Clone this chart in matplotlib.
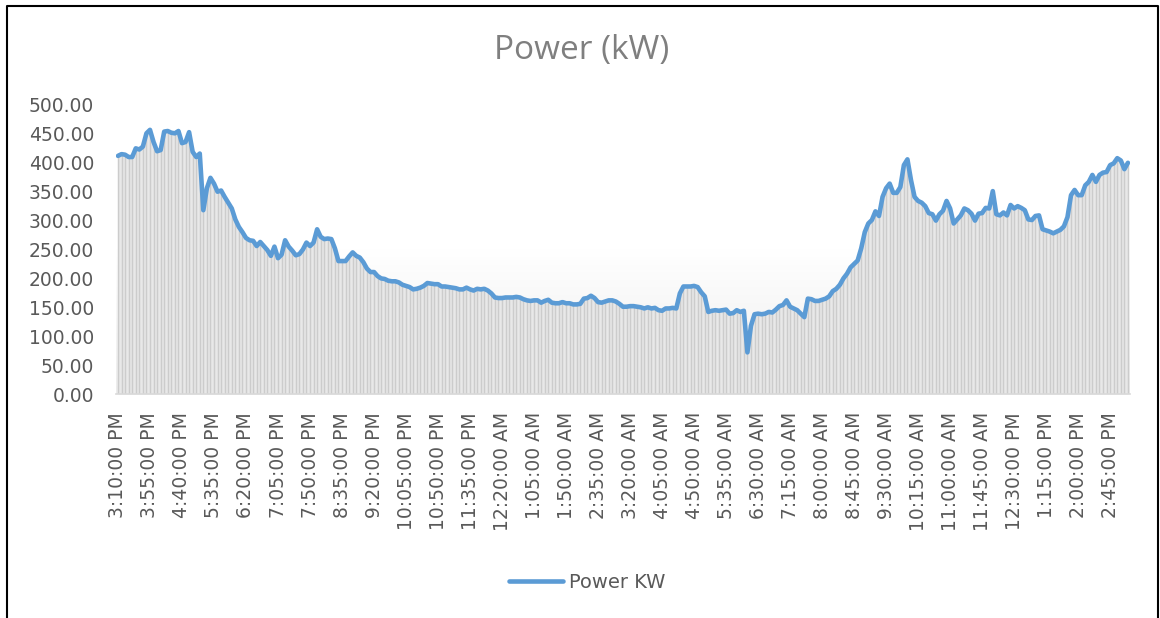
import numpy as np
import matplotlib
matplotlib.use("Agg")
import matplotlib.pyplot as plt
from matplotlib.lines import Line2D
from matplotlib.colors import LinearSegmentedColormap

# ---------------- data ----------------
power_kw = [
    412, 415, 414, 410, 410, 425, 423, 428, 451, 457, 436, 420, 422, 454, 455,
    452,
    451, 455, 434, 436, 453, 419, 410, 416, 318, 356, 374, 364, 350, 352, 341,
    331, 321, 302, 289, 280, 270, 266, 265, 256, 263, 256, 249, 239, 255, 235, 241,
    266, 255, 248, 240, 242, 250, 262, 256, 262, 285, 272, 268, 269, 268, 252,
    230, 230, 230, 238, 245, 239, 236,
    228, 217, 211, 211, 204, 200, 199, 196, 195, 195, 193, 189, 187, 185, 181,
    182, 184, 187, 192, 191, 190, 190, 186, 186, 185, 184, 183, 181, 181, 184,
    181, 179, 182, 181, 182, 179, 174, 167, 166, 166, 167, 167, 167, 168, 167,
    164, 162, 161, 162, 162, 158, 161, 163, 158, 157, 157, 159, 157, 157, 155,
    155, 156, 165, 166, 170, 166, 159, 158, 160, 162, 162, 160, 156, 151,
    151, 152, 152, 151, 150, 148, 150, 148, 149, 145, 144, 148, 148, 149, 148,
    174, 186, 186, 186, 187, 185, 176, 169, 142, 144, 145, 144, 145, 146, 139,
    140, 145, 142, 144, 72, 118, 138, 139, 138, 139, 142, 141, 146, 152, 154,
    162, 151, 148, 145, 139, 133, 165, 164, 161, 161, 163, 165, 169, 178, 182,
    189, 200, 208, 219, 225, 231, 252, 280, 295, 301,
    316, 308, 341, 356, 364, 348, 348, 358, 396, 406, 370, 341, 334, 331, 325,
    313, 311, 300, 311, 317, 334, 321, 295, 302, 309, 321, 318, 312, 300, 312,
    313, 322, 321, 351, 311, 309, 314, 309, 327, 321, 325, 322, 318, 302, 301,
    308, 309, 285, 283, 281, 278, 281, 284, 290, 306, 344, 353, 344, 344, 361,
    367, 379, 367, 379, 383, 384, 396, 399, 408, 404, 389, 400,
]

tick_labels = [
    "3:10:00 PM", "3:55:00 PM", "4:40:00 PM", "5:35:00 PM", "6:20:00 PM",
    "7:05:00 PM", "7:50:00 PM", "8:35:00 PM", "9:20:00 PM", "10:05:00 PM",
    "10:50:00 PM", "11:35:00 PM", "12:20:00 AM", "1:05:00 AM", "1:50:00 AM",
    "2:35:00 AM", "3:20:00 AM", "4:05:00 AM", "4:50:00 AM", "5:35:00 AM",
    "6:30:00 AM", "7:15:00 AM", "8:00:00 AM", "8:45:00 AM", "9:30:00 AM",
    "10:15:00 AM", "11:00:00 AM", "11:45:00 AM", "12:30:00 PM", "1:15:00 PM",
    "2:00:00 PM", "2:45:00 PM",
]
tick_step = 9
y_ticks = [0, 50, 100, 150, 200, 250, 300, 350, 400, 450, 500]
title_text = "Power (kW)"
series_name = "Power KW"

# ---------------- figure ----------------
W, H = 1160, 618
fig = plt.figure(figsize=(W / 100, H / 100), dpi=100)
fig.patch.set_facecolor("white")

N = len(power_kw)
x = np.arange(N)
ax = fig.add_axes([116.2 / W, 1 - 394 / H, 1013.5 / W, (394 - 105) / H])
ax.set_xlim(-0.5, N - 0.5)
ax.set_ylim(0, 500)

# plot-area gradient background
grad = np.linspace(0, 1, 256).reshape(-1, 1)
cmap = LinearSegmentedColormap.from_list("g", ["#ffffff", "#ffffff", "#ececec"])
ax.imshow(grad, extent=(-0.5, N - 0.5, 0, 500), origin="upper", aspect="auto",
          cmap=cmap, zorder=0)

# area under curve with drop lines
ax.fill_between(x, 0, power_kw, color="#e8e8e8", lw=0, zorder=1)
ax.vlines(x, 0, power_kw, colors="#cccccc", lw=1.05, zorder=2)
line, = ax.plot(x, power_kw, color="#5b9bd5", lw=3.3, solid_joinstyle="round",
                solid_capstyle="round", zorder=3, label=series_name)

for s in ["top", "right", "left"]:
    ax.spines[s].set_visible(False)
ax.spines["bottom"].set_color("#d9d9d9")
ax.spines["bottom"].set_linewidth(1.2)

ax.set_yticks(y_ticks)
ax.set_yticklabels([f"{v:.2f}" for v in y_ticks])
ax.set_xticks(x[::tick_step])
ax.set_xticklabels(tick_labels, rotation=90)
ax.tick_params(axis="y", length=0, pad=16, labelsize=13.5, labelcolor="#595959")
ax.tick_params(axis="x", length=0, pad=13, labelsize=13.5, labelcolor="#595959")

fig.text(582 / W, 1 - 51 / H, title_text, ha="center", va="center",
         fontsize=24, color="#7f7f7f", family="Open Sans")

fig.legend(handles=[line], labels=[series_name], loc="center",
           bbox_to_anchor=(587 / W, 1 - 582 / H), frameon=False, fontsize=14,
           handlelength=2.8, handletextpad=0.3, labelcolor="#595959")

# outer border (left, top, right)
fig.add_artist(Line2D([7 / W, 7 / W, 1158 / W, 1158 / W],
                      [0, 1 - 6 / H, 1 - 6 / H, 0],
                      transform=fig.transFigure, color="black", lw=1.5))

fig.savefig("out.png", dpi=100)
